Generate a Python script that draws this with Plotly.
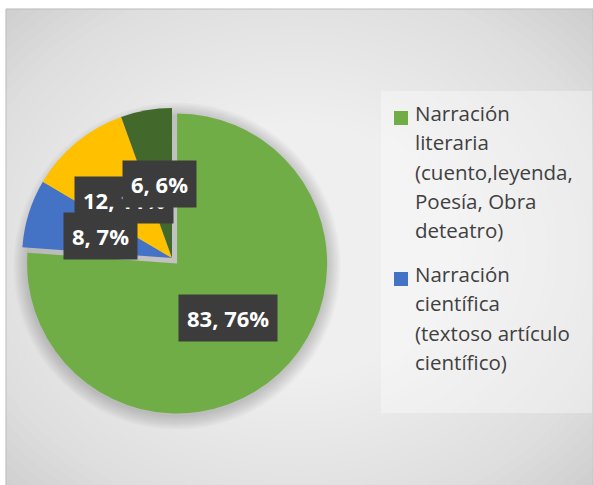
import math
import plotly.graph_objects as go

W, H = 593, 485

# ---- data ----
labels = [
    "Narración literaria (cuento,leyenda, Poesía, Obra deteatro)",
    "Narración científica (textoso artículo científico)",
    "Narración histórica",
    "Otros",
]
values = [83, 8, 12, 6]
colors = ["#70AD47", "#4472C4", "#FFC000", "#43682B"]
pulls = [0.05, 0, 0, 0]
legend_lines = [
    ["Narración", "literaria", "(cuento,leyenda,", "Poesía, Obra", "deteatro)"],
    ["Narración", "científica", "(textoso artículo", "científico)"],
]

# ---- layout geometry (pixels) ----
CX, CY, R = 172, 258, 150
maxpull = max(pulls)
half = R * (1 + maxpull)
dom_x = [(CX - half) / W, (CX + half) / W]
dom_y = [1 - (CY + half) / H, 1 - (CY - half) / H]


def px(x):
    return x / W


def py(y):
    return 1 - y / H


fig = go.Figure()
fig.add_trace(go.Pie(
    labels=labels, values=values, sort=False, direction="clockwise", rotation=0,
    marker=dict(colors=colors, line=dict(width=0)), pull=pulls,
    textinfo="none", hoverinfo="label+value+percent", showlegend=False,
    domain=dict(x=dom_x, y=dom_y),
))

shapes = []
# background panel with radial-like gradient
shapes.append(dict(type="rect", xref="paper", yref="paper", x0=px(6), x1=px(593), y0=py(486), y1=py(9),
                   fillcolor="#cbcbcb", line=dict(color="#bdbdbd", width=1), layer="below"))
n = 40
gx, gy = 295, 250
for k in range(n):
    f = 1 - k / n
    rx, ry = 420 * f, 345 * f
    shapes.append(dict(type="circle", xref="paper", yref="paper",
                       x0=px(gx - rx), x1=px(gx + rx), y0=py(gy + ry), y1=py(gy - ry),
                       fillcolor="rgba(255,255,255,0.06)", line=dict(width=0), layer="below"))
# white outer margin over the gradient spill
shapes.append(dict(type="rect", xref="paper", yref="paper", x0=0, x1=px(5.5), y0=0, y1=1,
                   fillcolor="white", line=dict(width=0), layer="below"))
shapes.append(dict(type="rect", xref="paper", yref="paper", x0=0, x1=1, y0=py(8.5), y1=1,
                   fillcolor="white", line=dict(width=0), layer="below"))
shapes.append(dict(type="line", xref="paper", yref="paper", x0=px(6), x1=px(593), y0=py(9), y1=py(9),
                   line=dict(color="#c4c4c4", width=1), layer="below"))
shapes.append(dict(type="line", xref="paper", yref="paper", x0=px(6), x1=px(6), y0=py(9), y1=0,
                   line=dict(color="#c4c4c4", width=1), layer="below"))
# pie shadow
for k in range(8):
    rr = R + 1 + k * 1.8
    sx, sy = CX + 5, CY + 8
    shapes.append(dict(type="circle", xref="paper", yref="paper",
                       x0=px(sx - rr), x1=px(sx + rr), y0=py(sy + rr), y1=py(sy - rr),
                       fillcolor="rgba(0,0,0,0.025)", line=dict(width=0), layer="below"))
# legend panel
shapes.append(dict(type="rect", xref="paper", yref="paper", x0=px(381), x1=px(592), y0=py(413), y1=py(91),
                   fillcolor="rgba(255,255,255,0.35)", line=dict(width=0), layer="below"))

annotations = []
# legend entries
entry_top = [113, 274]
line_h = 29.3
for i, lines in enumerate(legend_lines):
    y0 = entry_top[i]
    shapes.append(dict(type="rect", xref="paper", yref="paper", x0=px(394), x1=px(408),
                       y0=py(y0 + 12), y1=py(y0 - 2), fillcolor=colors[i], line=dict(width=0)))
    for j, t in enumerate(lines):
        annotations.append(dict(x=px(413), y=py(y0 + j * line_h), xref="paper", yref="paper",
                                text=t, showarrow=False, xanchor="left", yanchor="middle",
                                font=dict(family="Open Sans", size=20.5, color="#404040")))

# data labels
total = sum(values)
cum = 0
pos = []
for i, v in enumerate(values):
    bis = math.radians((cum + v / 2) / total * 360)
    cum += v
    d = pulls[i] * R + 0.5 * R
    pos.append((CX + d * math.sin(bis), CY - d * math.cos(bis)))
for i in [0, 2, 1, 3]:
    v = values[i]
    x, y = pos[i]
    txt = f"{v}, {round(v / total * 100)}%"
    annotations.append(dict(x=px(x), y=py(y), xref="paper", yref="paper",
                            text=f"<b>{txt}</b>", showarrow=False,
                            xanchor="center", yanchor="middle",
                            bgcolor="#3c3c3c", borderpad=8,
                            font=dict(family="Open Sans", size=22, color="white")))

fig.update_layout(
    width=W, height=H, margin=dict(l=0, r=0, t=0, b=0),
    paper_bgcolor="white", plot_bgcolor="white",
    shapes=shapes, annotations=annotations,
)
fig.write_html("out.html", config={"displayModeBar": False},
               post_script="document.body.style.margin='0';")
